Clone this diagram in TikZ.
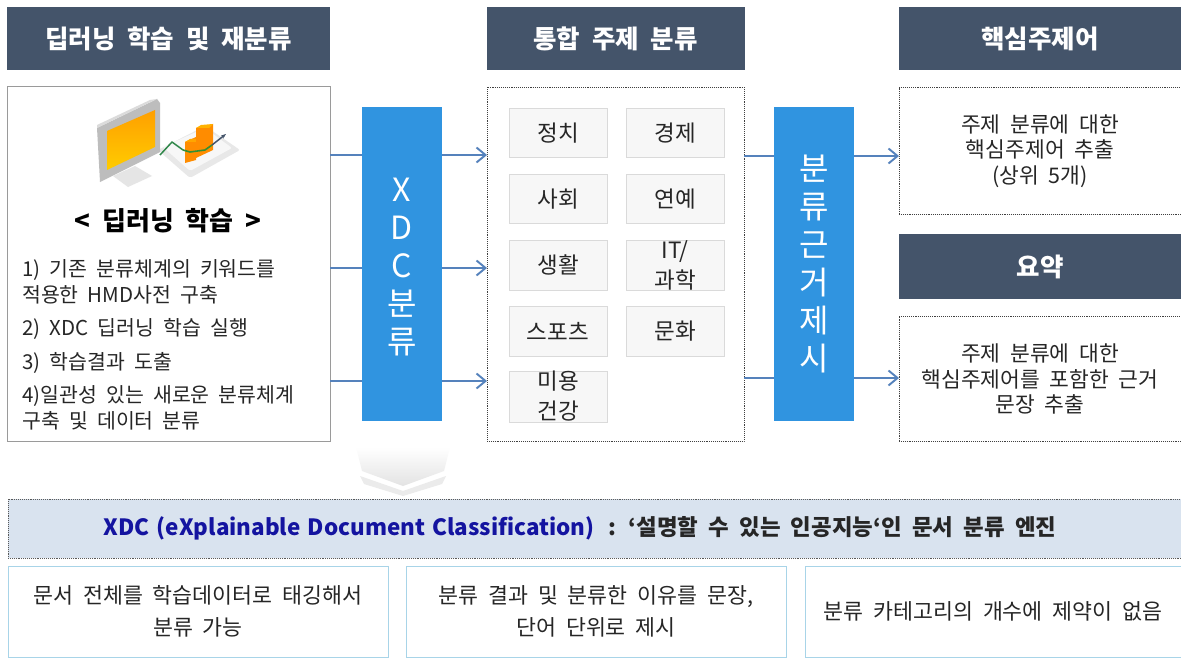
\documentclass[tikz,border=0pt]{standalone}
\usepackage{fontspec}
\setmainfont[WordSpace=2]{Noto Sans CJK KR}
\newfontfamily\bandlatin[WordSpace=1.4]{Noto Sans CJK KR}
\usetikzlibrary{arrows.meta,fadings,calc}
\definecolor{headnavy}{HTML}{44546A}
\definecolor{barblue}{HTML}{3094E0}
\definecolor{linkblue}{HTML}{5582BC}
\definecolor{framegrey}{HTML}{9A9A9A}
\definecolor{catfill}{HTML}{F7F7F7}
\definecolor{catline}{HTML}{DADADA}
\definecolor{bandfill}{HTML}{D9E3EF}
\definecolor{notecyan}{HTML}{A8D4E8}
\definecolor{inktext}{HTML}{262626}
\definecolor{titleblue}{HTML}{1414A0}
\tikzset{
  x=1pt,y=-1pt,
  header/.style={fill=headnavy,text=white,font=\fontsize{25.5}{30}\selectfont\bfseries,
    inner sep=0,outer sep=0,minimum height=63.5pt,anchor=north west},
  framed/.style={draw=framegrey,line width=1pt,fill=white,inner sep=0,outer sep=0,anchor=north west},
  dotframe/.style={draw=black!75,densely dotted,line width=0.9pt,fill=white,inner sep=0,outer sep=0,anchor=north west},
  category/.style={draw=catline,line width=0.8pt,fill=catfill,text=inktext,inner sep=0,outer sep=0,
    minimum width=98pt,anchor=north west,align=center,font=\fontsize{22.5}{30}\selectfont},
  bluebar/.style={fill=barblue,inner sep=0,outer sep=0,minimum width=80.5pt,minimum height=314pt,anchor=north west},
  bartext/.style={text=white,align=center,font=\fontsize{32}{38}\selectfont,inner sep=0},
  link/.style={draw=linkblue,line width=2pt},
  linkarrow/.style={link,-{Straight Barb[length=9pt,width=15pt,line width=1.9pt]}},
  listtext/.style={text=inktext,anchor=west,inner sep=0,font=\fontsize{20.5}{25}\selectfont},
  notetext/.style={text=inktext,align=center,inner sep=0,font=\fontsize{21.5}{25.5}\selectfont},
  feattext/.style={text=inktext,align=center,inner sep=0,font=\fontsize{21.7}{32}\selectfont},
  notebox/.style={draw=notecyan,line width=1pt,fill=white,inner sep=0,outer sep=0,anchor=north west,
    minimum height=91pt},
}
\begin{document}
\begin{tikzpicture}
\useasboundingbox (0,0) rectangle (1181,658);
\fill[white] (0,0) rectangle (1181,658);

% column headers
\node[header,minimum width=323pt] (headLearn) at (7,7) {딥러닝 학습 및 재분류};
\node[header,minimum width=258pt] (headTopic) at (486.5,7) {통합 주제 분류};
\node[header,minimum width=282pt] (headKey) at (899,7) {핵심주제어};

% main frames
\node[framed,minimum width=323pt,minimum height=354pt] (learnBox) at (7,87) {};
\node[dotframe,minimum width=257pt,minimum height=354pt] (topicBox) at (487,87) {};
\node[dotframe,minimum width=282pt,minimum height=127pt] (keyBox) at (899,87) {};
\node[header,minimum width=282pt,minimum height=65pt] (headSummary) at (899,234) {요약};
\node[dotframe,minimum width=282pt,minimum height=125pt] (sumBox) at (899,316) {};

% rail positions of the connectors
\coordinate (railA) at (0,155);
\coordinate (railB) at (0,268);
\coordinate (railC) at (0,381);
\coordinate (railD) at (0,156);
\coordinate (railE) at (0,378);

\draw[linkarrow] (learnBox.east |- railA) -- (topicBox.west |- railA);
\draw[linkarrow] (learnBox.east |- railB) -- (topicBox.west |- railB);
\draw[linkarrow] (learnBox.east |- railC) -- (topicBox.west |- railC);
\draw[linkarrow] (topicBox.east |- railD) -- (keyBox.west |- railD);
\draw[linkarrow] (topicBox.east |- railE) -- (sumBox.west |- railE);

% blue process bars
\node[bluebar] (barXdc) at (361.5,107) {};
\node[bluebar] (barReason) at (773.5,107) {};
\node[bartext] (xdcLabel) at (402,267) {X\\D\\C\\분\\류};
\node[bartext] (reasonLabel) at (814,264) {분\\류\\근\\거\\제\\시};

% chart plate behind the monitor
\fill[black!9,rounded corners=2pt] (158,150) -- (205,126) -- (240,150) -- (190,178) -- cycle;
\fill[black!3,rounded corners=2pt] (163,147) -- (205,128) -- (232,148) -- (190,171) -- cycle;
% monitor body, screen and stand
\fill[black!10] (113,176) -- (135,166) -- (152,176) -- (128,187) -- cycle;
\fill[black!26] (97,128) -- (157,99) -- (160,103) -- (160,152) -- (100,182) -- cycle;
\fill[black!14] (97,128) -- (157,99) -- (150,100) -- (97,125) -- cycle;
\shade[top color=orange!75!yellow,bottom color=yellow!60!orange]
  (107,131) -- (155,110) -- (155,147) -- (107,170) -- cycle;
% chart columns and trend line
\fill[orange!90!yellow] (185,142) -- (196,137) -- (196,160) -- (185,163) -- cycle;
\fill[orange!70!yellow] (185,142) -- (190,139) -- (201,139) -- (196,142) -- cycle;
\fill[orange!90!yellow] (196,128) -- (213,124) -- (213,150) -- (196,158) -- cycle;
\fill[orange!60!yellow] (196,128) -- (201,125) -- (213,124) -- (209,128) -- cycle;
\draw[headnavy!70!green,line width=1.5pt,line join=round] (160,155) -- (172,142) -- (183,150);
\draw[green!45!black!80,line width=1.6pt,line join=round] (183,150) -- (190,152) -- (205,150) -- (212,145);
\draw[headnavy,line width=1.5pt,-{Stealth[length=5pt]}] (212,145) -- (226,134);

% deep learning notes
\node[text=black,inner sep=0,font=\fontsize{26}{30}\selectfont\bfseries] (learnTitle) at (168,221) {< 딥러닝 학습 >};
\node[listtext] (stepA) at (22,270) {1) 기존 분류체계의 키워드를};
\node[listtext] (stepAb) at (22,295) {적용한 HMD사전 구축};
\node[listtext] (stepB) at (22,329) {2) XDC 딥러닝 학습 실행};
\node[listtext] (stepC) at (22,363) {3) 학습결과 도출};
\node[listtext] (stepD) at (22,396) {4)일관성 있는 새로운 분류체계};
\node[listtext] (stepDb) at (22,421) {구축 및 데이터 분류};

% topic categories
\node[category,minimum height=49.5pt] (catA) at (509,108) {정치};
\node[category,minimum height=49.5pt] (catB) at (626,108) {경제};
\node[category,minimum height=49.5pt] (catC) at (509,174) {사회};
\node[category,minimum height=49.5pt] (catD) at (626,174) {연예};
\node[category,minimum height=49.5pt] (catE) at (509,240.5) {생활};
\node[category,minimum height=49.5pt] (catF) at (626,240.5) {IT/\\과학};
\node[category,minimum height=49.5pt] (catG) at (509,306.5) {스포츠};
\node[category,minimum height=49.5pt] (catH) at (626,306.5) {문화};
\node[category,minimum height=51pt] (catI) at (509,371) {미용\\건강};

% right-hand outputs
\node[notetext] (keyText) at (1040,151) {주제 분류에 대한\\핵심주제어 추출\\(상위 5개)};
\node[notetext] (sumText) at (1040,379) {주제 분류에 대한\\핵심주제어를 포함한 근거\\문장 추출};

% chevron between the upper and lower parts
\fill[black!8] (360,476) -- (403,491) -- (446,476) -- (442,484) -- (403,496) -- (364,484) -- cycle;
\shade[top color=white,bottom color=black!11]
  (356,447) -- (450,447) -- (444,471) -- (403,486) -- (362,471) -- cycle;

% summary band
\node[anchor=north west,fill=bandfill,draw=black!65,densely dotted,line width=0.9pt,inner sep=0,outer sep=0,
  minimum width=1173pt,minimum height=59pt] (band) at (8,499) {};
\node[inner sep=0,font=\fontsize{22.4}{27}\selectfont\bfseries,text=inktext] (bandText) at (580,528)
  {{\color{titleblue}\bandlatin\bfseries XDC (eXplainable Document Classification)}\hspace{4pt} : ‘설명할 수 있는 인공지능‘인 문서 분류 엔진};

% feature boxes
\node[notebox,minimum width=380pt] (featA) at (8,566) {};
\node[notebox,minimum width=380pt] (featB) at (406,566) {};
\node[notebox,minimum width=376pt] (featC) at (805,566) {};
\node[feattext] (featAText) at (198,611) {문서 전체를 학습데이터로 태깅해서\\분류 가능};
\node[feattext] (featBText) at (596,611) {분류 결과 및 분류한 이유를 문장,\\단어 단위로 제시};
\node[feattext] (featCText) at (993,611) {분류 카테고리의 개수에 제약이 없음};
\end{tikzpicture}
\end{document}
